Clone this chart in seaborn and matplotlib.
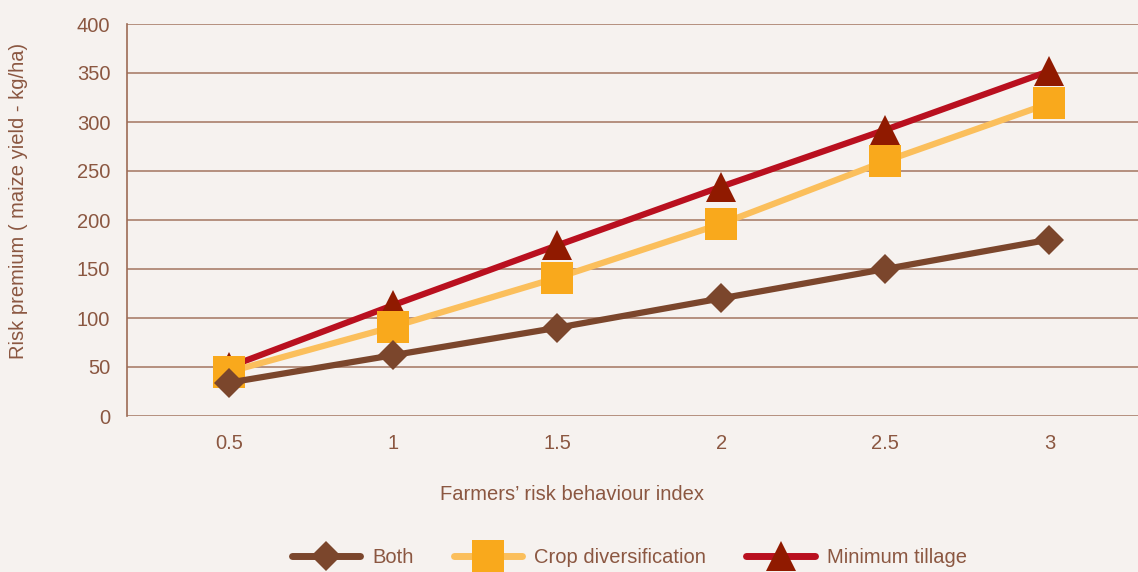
import matplotlib
matplotlib.use("Agg")
import matplotlib.pyplot as plt
import seaborn as sns
import pandas as pd
from matplotlib.lines import Line2D

risk_index = [0.5, 1, 1.5, 2, 2.5, 3]
tick_labels = ["0.5", "1", "1.5", "2", "2.5", "3"]
both = [34, 62, 90, 120, 150, 180]
crop_div = [45, 91, 141, 196, 260, 319]
min_tillage = [50, 113, 174, 234, 292, 352]

series_names = ["Both", "Crop diversification", "Minimum tillage"]

BG = "#f6f2ef"
TXT = "#8b5741"
GRID = "#9c6b55"
FS = 14.5

sns.set_theme(style="white")
plt.rcParams["font.family"] = ["Liberation Sans", "DejaVu Sans"]

fig = plt.figure(figsize=(11.38, 5.72), dpi=100, facecolor=BG)
ax = fig.add_axes([127 / 1138, (572 - 416) / 572, (1138 - 127) / 1138, 392 / 572])
ax.set_facecolor(BG)

styles = {
    "Minimum tillage": dict(line="#b9101f", mfc="#901a00", marker="^", ms=21),
    "Crop diversification": dict(line="#fbbf5c", mfc="#f9a91c", marker="s", ms=23),
    "Both": dict(line="#7b462c", mfc="#7b462c", marker="D", ms=15),
}
values = {"Both": both, "Crop diversification": crop_div, "Minimum tillage": min_tillage}

for z, name in enumerate(["Minimum tillage", "Crop diversification", "Both"]):
    st = styles[name]
    df = pd.DataFrame({"x": risk_index, "y": values[name]})
    sns.lineplot(data=df, x="x", y="y", ax=ax, color=st["line"], linewidth=4.5,
                 marker=st["marker"], markersize=st["ms"], markerfacecolor=st["mfc"],
                 markeredgecolor=st["mfc"], markeredgewidth=0, zorder=3 + z)

ax.set_xlim(0.19, 3.27)
ax.set_ylim(0, 400)
ax.set_yticks(range(0, 401, 50))
ax.set_xticks(risk_index)
ax.set_xticklabels(tick_labels)
ax.yaxis.grid(True, color=GRID, linewidth=1.2, alpha=0.85)
ax.xaxis.grid(False)
for s in ["top", "right", "bottom"]:
    ax.spines[s].set_visible(False)
ax.spines["left"].set_color(GRID)
ax.spines["left"].set_linewidth(1.2)
ax.tick_params(axis="y", colors=TXT, labelsize=FS, length=2, width=1, color=GRID, pad=10)
ax.tick_params(axis="x", colors=TXT, labelsize=FS, length=0, pad=13)

ax.set_xlabel("Farmers’ risk behaviour index", color=TXT, fontsize=FS)
ax.xaxis.set_label_coords(0.44, -0.175)
ax.set_ylabel("Risk premium ( maize yield - kg/ha)", color=TXT, fontsize=FS)
ax.yaxis.set_label_coords(-0.098, 0.548)

handles = []
for name in series_names:
    st = styles[name]
    handles.append(Line2D([], [], color=st["line"], linewidth=5, marker=st["marker"],
                          markersize=st["ms"], markerfacecolor=st["mfc"],
                          markeredgewidth=0))
leg = fig.legend(handles, series_names, loc="center", bbox_to_anchor=(0.553, 0.026),
                 ncol=3, frameon=False, fontsize=FS, handlelength=3.4,
                 columnspacing=2.0, handletextpad=0.6, borderaxespad=0)
for t in leg.get_texts():
    t.set_color(TXT)

fig.savefig("out.png", dpi=100, facecolor=BG)
